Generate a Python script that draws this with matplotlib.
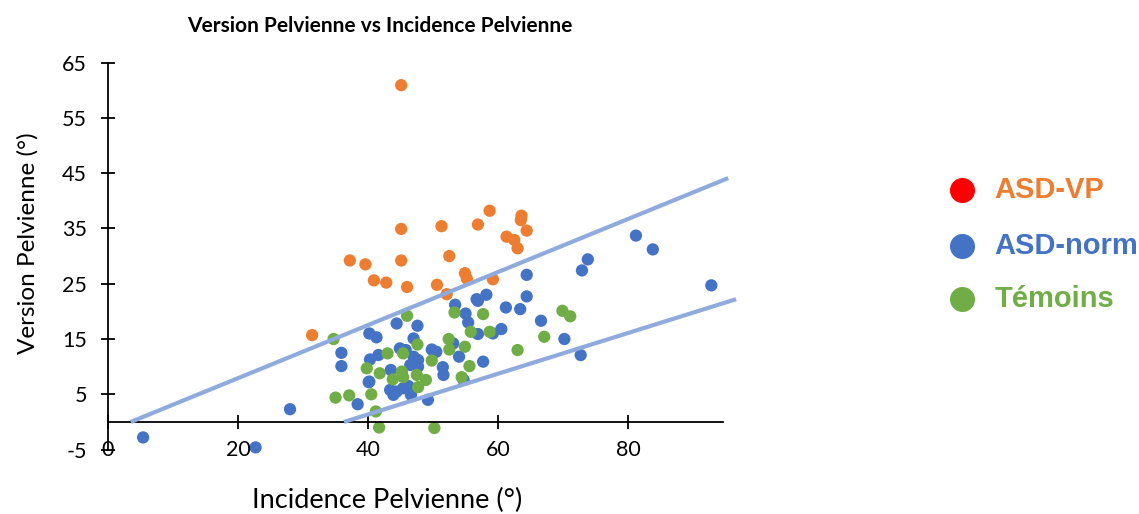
import matplotlib.pyplot as plt
from matplotlib.lines import Line2D

# ASD-VP (orange)
vp_x = [45.1, 37.2, 39.6, 45.1, 45.1, 40.9, 42.8, 46.0, 51.3, 52.5, 50.6, 52.1, 54.9, 55.2,
        56.9, 58.7, 59.2, 61.3, 62.5, 63.0, 63.6, 63.5, 64.4, 31.4]
vp_y = [60.9, 29.2, 28.5, 34.9, 29.2, 25.6, 25.2, 24.4, 35.4, 30.0, 24.8, 23.1, 26.9, 25.9,
        35.7, 38.2, 25.8, 33.5, 32.9, 31.4, 37.3, 36.5, 34.6, 15.7]

# ASD-norm (blue)
norm_x = [5.4, 22.7, 28.0, 38.4, 40.1, 81.2, 83.8, 73.8, 72.9, 92.8, 70.2, 72.7, 64.4, 64.4,
          58.2, 56.7, 53.4, 56.9, 61.2, 63.4, 55.0, 55.4, 66.6, 44.4, 47.6, 40.2, 41.3, 56.9,
          59.2, 60.5, 35.9, 35.9, 47.0, 44.9, 40.3, 41.6, 49.8, 50.5, 53.1, 54.0, 57.7, 51.5,
          51.6, 47.0, 47.7, 46.5, 47.7, 43.5, 40.2, 43.4, 44.4, 45.4, 43.9, 46.6, 49.2, 54.7,
          45.8, 46.2]
norm_y = [-2.8, -4.6, 2.3, 3.2, 7.2, 33.7, 31.2, 29.4, 27.4, 24.7, 15.0, 12.1, 26.6, 22.7,
          23.0, 22.2, 21.2, 21.9, 20.7, 20.4, 19.6, 18.0, 18.3, 17.8, 17.4, 16.0, 15.3, 15.9,
          16.0, 16.8, 12.5, 10.1, 15.1, 13.3, 11.3, 12.1, 13.1, 12.7, 14.2, 11.8, 10.9, 9.9,
          8.5, 11.8, 11.2, 10.3, 10.0, 9.4, 7.3, 5.8, 5.5, 6.1, 4.9, 4.9, 4.0, 7.6,
          13.0, 6.5]

# Temoins (green)
tem_x = [34.7, 46.0, 53.3, 57.7, 55.8, 58.7, 69.9, 71.1, 67.1, 63.0, 52.4, 52.5, 54.9, 47.6,
         43.0, 45.4, 49.8, 55.6, 39.8, 41.8, 45.2, 43.8, 45.4, 47.5, 48.9, 54.4, 47.7, 40.5,
         37.1, 35.0, 41.2, 41.7, 50.2]
tem_y = [15.0, 19.2, 19.8, 19.5, 16.3, 16.3, 20.1, 19.1, 15.4, 13.0, 15.0, 13.1, 13.6, 14.0,
         12.4, 12.4, 11.1, 10.1, 9.7, 8.8, 9.1, 7.7, 8.1, 8.5, 7.6, 8.1, 6.3, 5.0,
         4.8, 4.4, 1.9, -1.0, -1.1]

# limit lines
upper_x = [3.5, 95.4]
upper_y = [0.0, 44.1]
lower_x = [36.3, 96.6]
lower_y = [0.0, 22.2]

yticks = [65, 55, 45, 35, 25, 15, 5, -5]
xticks = [0, 20, 40, 60, 80]

orange = '#ED7D31'
blue = '#4472C4'
green = '#70AD47'
linec = '#8FAADC'

plt.rcParams['font.family'] = ['Lato', 'DejaVu Sans']
plt.rcParams['axes.unicode_minus'] = False

fig = plt.figure(figsize=(11.39, 5.14), dpi=100, facecolor='white')
ax = fig.add_axes([0.0948, 0.1253, 0.54, 0.7531])

ax.plot(upper_x, upper_y, color=linec, lw=3, solid_capstyle='butt', zorder=3, clip_on=False)
ax.plot(lower_x, lower_y, color=linec, lw=3, solid_capstyle='butt', zorder=3, clip_on=False)
ax.scatter(vp_x, vp_y, s=78, color=orange, edgecolors='none', zorder=2, clip_on=False)
ax.scatter(norm_x, norm_y, s=78, color=blue, edgecolors='none', zorder=2, clip_on=False)
ax.scatter(tem_x, tem_y, s=78, color=green, edgecolors='none', zorder=2, clip_on=False)

ax.set_xlim(0, 94.6)
ax.set_ylim(-5, 65)
for s in ['top', 'right']:
    ax.spines[s].set_visible(False)
ax.spines['bottom'].set_position(('data', 0))
ax.spines['left'].set_linewidth(1.3)
ax.spines['bottom'].set_linewidth(1.3)
ax.set_yticks(yticks)
ax.set_xticks(xticks)
ax.set_xticklabels([])
ax.tick_params(axis='both', direction='inout', length=10, width=1.3, labelsize=15.5)
ax.tick_params(axis='y', pad=10)
for xt in xticks:
    ax.text(xt, -5, str(xt), ha='center', va='center', fontsize=15.5)

fig.text(0.3336, 0.949, 'Version Pelvienne vs Incidence Pelvienne', ha='center', va='center',
         fontsize=15, fontweight='bold')
fig.text(0.340, 0.027, 'Incidence Pelvienne (°)', ha='center', va='center', fontsize=19.5)
fig.text(0.024, 0.527, 'Version Pelvienne (°)', ha='center', va='center', fontsize=17.5,
         rotation=90)

# legend
leg_items = [('ASD-VP', '#FF0000', orange), ('ASD-norm', blue, blue), ('Témoins', green, green)]
leg_y = [0.630, 0.521, 0.418]
for (lab, mc, tc), ly in zip(leg_items, leg_y):
    fig.add_artist(Line2D([0.8445], [ly], marker='o', markersize=17, color=mc, lw=0,
                          transform=fig.transFigure))
    fig.text(0.873, ly, lab, ha='left', va='center', fontsize=21, fontweight='bold', color=tc,
             family=['Liberation Sans', 'DejaVu Sans'])

fig.savefig('out.png', dpi=100, facecolor='white')
